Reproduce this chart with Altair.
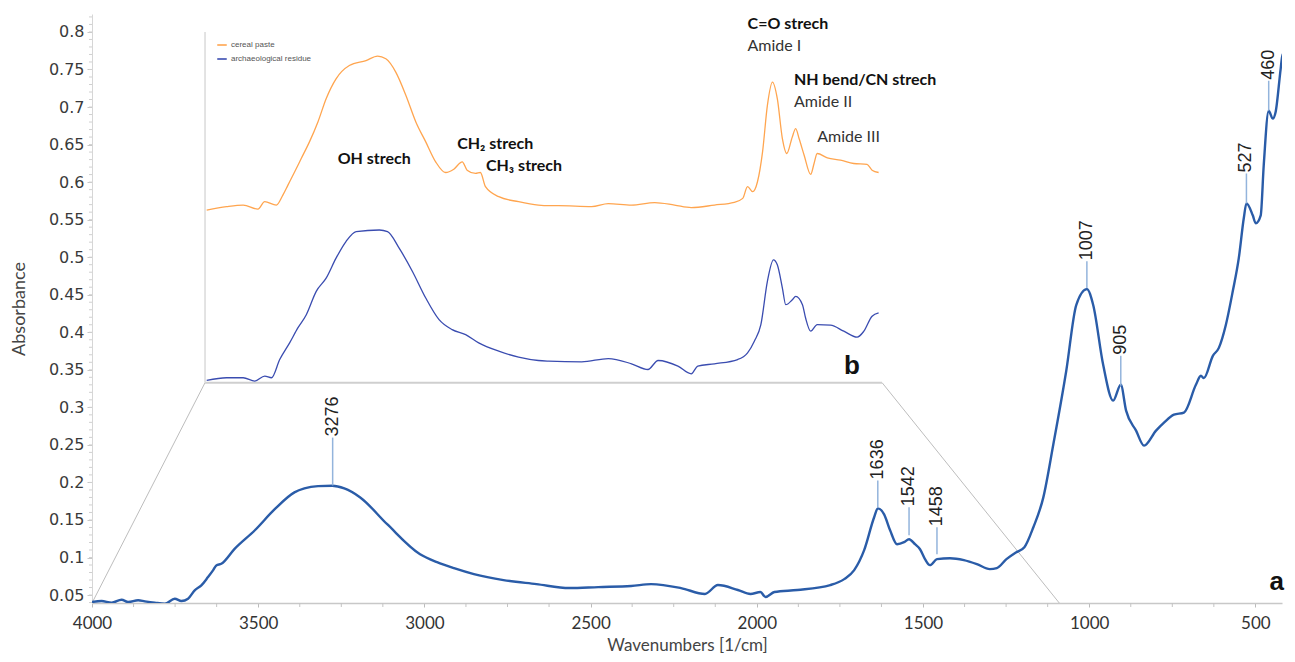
import altair as alt
import pandas as pd

# ---------------- data ----------------
main_wn = [4000, 3971, 3941, 3911, 3891, 3861, 3841, 3811, 3781, 3751,
           3731, 3711, 3691, 3671, 3651, 3636, 3626, 3611, 3571, 3510,
           3451, 3391, 3361, 3320, 3277, 3241, 3193, 3112, 3013, 2962,
           2911, 2851, 2762, 2663, 2564, 2477, 2378, 2318, 2228, 2156,
           2117, 2057, 2019, 1989, 1974, 1947, 1878, 1779, 1737, 1707,
           1677, 1647, 1636, 1617, 1599, 1578, 1557, 1542, 1524, 1509,
           1494, 1479, 1458, 1419, 1377, 1338, 1299, 1278, 1249, 1219,
           1195, 1168, 1138, 1108, 1069, 1039, 1007, 988, 958, 928,
           905, 889, 859, 835, 799, 775, 745, 715, 679, 664,
           655, 628, 610, 589, 568, 550, 535, 527, 508, 499,
           484, 475, 460, 448, 439, 424, 418, 409, 394]
main_abs = [0.0407, 0.042, 0.0398, 0.0438, 0.0407, 0.043, 0.0416, 0.0398, 0.0385, 0.0451,
            0.042, 0.0451, 0.0563, 0.0629, 0.0739, 0.0828, 0.0894, 0.0916, 0.1115, 0.1363,
            0.164, 0.1867, 0.192, 0.195, 0.1955, 0.192, 0.18, 0.1443, 0.1044, 0.0938,
            0.0858, 0.0779, 0.0699, 0.0646, 0.0593, 0.0606, 0.062, 0.0646, 0.0593, 0.0514,
            0.0633, 0.0567, 0.0514, 0.054, 0.0474, 0.054, 0.0567, 0.0633, 0.0712, 0.0832,
            0.1098, 0.1536, 0.1655, 0.1575, 0.1363, 0.1177, 0.1204, 0.1244, 0.1177, 0.111,
            0.0978, 0.0898, 0.0978, 0.0991, 0.0965, 0.0912, 0.0845, 0.0859, 0.0978, 0.1071,
            0.1137, 0.1403, 0.1801, 0.2505, 0.3487, 0.4363, 0.4575, 0.4363, 0.3566, 0.3089,
            0.330, 0.2956, 0.269, 0.249, 0.269, 0.2797, 0.2903, 0.293, 0.330, 0.342,
            0.339, 0.3686, 0.3792, 0.4097, 0.4549, 0.4987, 0.5518, 0.5717, 0.5558, 0.5451,
            0.5558, 0.6221, 0.6951, 0.6845, 0.6938, 0.7509, 0.7708, 0.7681, 0.7668]

peak_wn = [3276, 1636, 1542, 1458, 1007, 905, 527, 460]
peak_abs = [0.196, 0.1668, 0.1297, 0.1044, 0.4589, 0.3288, 0.5717, 0.6951]
peak_label_abs = [0.2597, 0.2027, 0.1668, 0.1403, 0.4947, 0.3686, 0.6115, 0.735]

cereal_wn = [3993, 3911, 3842, 3781, 3753, 3705, 3678, 3657, 3629, 3602,
             3568, 3533, 3499, 3458, 3403, 3334, 3286, 3252, 3211, 3169,
             3128, 3087, 3046, 3005, 2971, 2936, 2916, 2881, 2861, 2840,
             2785, 2703, 2621, 2579, 2538, 2401, 2332, 2236, 2140, 2058,
             1989, 1893, 1811, 1776, 1756, 1735, 1715, 1694, 1674, 1653,
             1633, 1612, 1594, 1571, 1557, 1543, 1522, 1495, 1481, 1468,
             1426, 1372, 1317, 1262, 1241, 1214]
cereal_abs = [0.5628, 0.5673, 0.5694, 0.5641, 0.5739, 0.5694, 0.5827, 0.596, 0.6138, 0.6314,
              0.6536, 0.6801, 0.7111, 0.7376, 0.7553, 0.7619, 0.7677, 0.7642, 0.7465, 0.7154,
              0.6801, 0.6536, 0.627, 0.6128, 0.6172, 0.627, 0.6159, 0.6115, 0.6128, 0.5939,
              0.5806, 0.5739, 0.5694, 0.5686, 0.5686, 0.5673, 0.5713, 0.5694, 0.5726, 0.5694,
              0.566, 0.5694, 0.573, 0.5783, 0.5939, 0.5872, 0.6005, 0.6403, 0.7022, 0.7332,
              0.7111, 0.658, 0.6381, 0.6602, 0.6712, 0.658, 0.6358, 0.6102, 0.6248, 0.6381,
              0.6323, 0.6292, 0.6248, 0.6235, 0.6159, 0.6128]

residue_wn = [3993, 3911, 3842, 3794, 3753, 3725, 3691, 3650, 3616, 3581,
              3540, 3499, 3458, 3417, 3375, 3279, 3245, 3197, 3142, 3087,
              3032, 2978, 2922, 2868, 2785, 2703, 2621, 2579, 2442, 2332,
              2236, 2168, 2126, 2044, 1989, 1962, 1893, 1797, 1756, 1728,
              1701, 1674, 1649, 1633, 1612, 1598, 1571, 1557, 1529, 1516,
              1495, 1468, 1413, 1358, 1303, 1275, 1241, 1214]
residue_abs = [0.3358, 0.3394, 0.3394, 0.335, 0.3417, 0.3394, 0.3637, 0.3859, 0.4058, 0.4234,
               0.4545, 0.4721, 0.4987, 0.5208, 0.5341, 0.5362, 0.5341, 0.512, 0.481, 0.4456,
               0.4168, 0.4035, 0.3969, 0.3859, 0.3748, 0.3669, 0.3624, 0.3616, 0.3606, 0.365,
               0.358, 0.3504, 0.3624, 0.3549, 0.3447, 0.3549, 0.358, 0.3637, 0.3726, 0.3881,
               0.4101, 0.4678, 0.4964, 0.4898, 0.4589, 0.4367, 0.4433, 0.4478, 0.4367, 0.419,
               0.4014, 0.4101, 0.4094, 0.4014, 0.3934, 0.4014, 0.4213, 0.4257]

series_names = ["cereal paste", "archaeological residue"]
series_colors = ["#ffa54f", "#3a4cb0"]

# inset annotations (inset wavenumber, absorbance level)
bold_texts = ["C=O strech", "NH bend/CN strech", "CH₂ strech", "CH₃ strech"]
bold_wn = [1756, 1564, 2957, 2838]
bold_abs = [0.8106, 0.7354, 0.6513, 0.6208]
oh_text = ["OH strech"]
oh_wn = [3300]
oh_abs = [0.6314]
plain_texts = ["Amide I", "Amide II", "Amide III"]
plain_wn = [1756, 1564, 1468]
plain_abs = [0.7814, 0.7067, 0.6602]

# zoom connector: region of main axis shown in inset and inset corners (main units)
zoom_from_wn = [4000, 1090]
inset_corner_wn = [3660, 1623]
inset_base_abs = 0.3328
inset_top_abs = 0.80
axis_bottom_abs = 0.0394

x_ticks = [4000, 3500, 3000, 2500, 2000, 1500, 1000, 500]
y_ticks = [0.05, 0.1, 0.15, 0.2, 0.25, 0.3, 0.35, 0.4, 0.45, 0.5,
           0.55, 0.6, 0.65, 0.7, 0.75, 0.8]
x_minor = [w for w in range(3875, 420, -125) if w % 500 != 0]
y_minor = [round(0.04 + 0.01 * i, 2) for i in range(79)]

# ---------------- scales ----------------
W, H = 1190, 589
xs_main = alt.Scale(domain=[420, 4000], reverse=True, nice=False, zero=False)
ys = alt.Scale(domain=[axis_bottom_abs, 0.8239], nice=False, zero=False)
xs_inset = alt.Scale(domain=[4000, 1200], range=[113, 790], nice=False, zero=False)

x_axis = alt.Axis(values=x_ticks, format="d", labelFont="Lato", labelFontSize=17,
                  labelColor="#333", title="Wavenumbers [1/cm]", titleFont="Lato",
                  titleFontSize=17, titleFontWeight="normal", titleColor="#444",
                  titlePadding=6, tickSize=4, tickColor="#bbbbbb", domainColor="#c8c8c8",
                  domainWidth=1.5, labelPadding=8, labelFlush=False, grid=False)
y_axis = alt.Axis(values=y_ticks, format=".2~f", labelFont="DejaVu Sans", labelFontSize=16,
                  labelColor="#3a3a3a", title="Absorbance", titleFont="Lato",
                  titleFontSize=18, titleFontWeight="normal", titleColor="#444",
                  titlePadding=20, tickSize=5, tickColor="#c8c8c8", domainColor="#d6d6d6",
                  labelPadding=3, labelFlush=False, grid=False)

# ---------------- main spectrum group ----------------
main_df = pd.DataFrame({"wn": main_wn, "A": main_abs})
peaks_df = pd.DataFrame({"wn": peak_wn, "A": peak_abs, "At": peak_label_abs,
                         "label": [str(p) for p in peak_wn]})
conn_df = pd.DataFrame({"x": zoom_from_wn, "y": [axis_bottom_abs] * 2,
                        "x2": inset_corner_wn, "y2": [inset_base_abs] * 2})
frame_bottom = pd.DataFrame({"x": [inset_corner_wn[0]], "x2": [inset_corner_wn[1]],
                             "y": [inset_base_abs]})
frame_left = pd.DataFrame({"x": [inset_corner_wn[0]], "y": [inset_base_abs],
                           "y2": [inset_top_abs]})
xminor_df = pd.DataFrame({"wn": x_minor})
yminor_df = pd.DataFrame({"A": y_minor})
a_df = pd.DataFrame({"wn": [436], "A": [0.0673], "t": ["a"]})


def mx(f):
    return alt.X(f, scale=xs_main, axis=x_axis)


def my(f):
    return alt.Y(f, scale=ys, axis=y_axis)


main_line = alt.Chart(main_df).mark_line(
    color="#2a5ca8", strokeWidth=2.4, clip=True, interpolate="monotone"
).encode(x=mx("wn:Q"), y=my("A:Q"))
connectors = alt.Chart(conn_df).mark_rule(color="#bdbdbd", strokeWidth=1).encode(
    x=mx("x:Q"), y=my("y:Q"), x2="x2:Q", y2="y2:Q",
)
fb = alt.Chart(frame_bottom).mark_rule(color="#cfcfcf", strokeWidth=2).encode(
    x=mx("x:Q"), x2="x2:Q", y=my("y:Q"),
)
fl = alt.Chart(frame_left).mark_rule(color="#dadada", strokeWidth=1.5).encode(
    x=mx("x:Q"), y=my("y:Q"), y2="y2:Q",
)
xminor = alt.Chart(xminor_df).mark_rule(color="#c4c4c4", strokeWidth=1).encode(
    x=mx("wn:Q"), y=alt.value(H), y2=alt.value(H + 4),
)
yminor = alt.Chart(yminor_df).mark_rule(color="#d0d0d0", strokeWidth=1).encode(
    y=my("A:Q"), x=alt.value(-3), x2=alt.value(0),
)
leaders = alt.Chart(peaks_df).mark_rule(color="#93b4dc", strokeWidth=1.5).encode(
    x=mx("wn:Q"), y=my("At:Q"), y2="A:Q",
)
peak_text = alt.Chart(peaks_df).mark_text(
    angle=270, align="left", baseline="middle", font="Liberation Sans",
    fontSize=18, color="#222", dx=1,
).encode(x=mx("wn:Q"), y=my("At:Q"), text="label:N")
a_text = alt.Chart(a_df).mark_text(
    font="Liberation Sans", fontSize=26, fontWeight="bold", color="#111",
    align="center", baseline="middle",
).encode(x=mx("wn:Q"), y=my("A:Q"), text="t:N")

main_group = alt.layer(connectors, fb, fl, xminor, yminor, main_line, leaders, peak_text, a_text)

# ---------------- inset group ----------------
inset_df = pd.concat([
    pd.DataFrame({"wn": cereal_wn, "A": cereal_abs, "series": series_names[0]}),
    pd.DataFrame({"wn": residue_wn, "A": residue_abs, "series": series_names[1]}),
])


def ix(f):
    return alt.X(f, scale=xs_inset, axis=None)


inset_lines = alt.Chart(inset_df).mark_line(strokeWidth=1.3, interpolate="monotone").encode(
    x=ix("wn:Q"), y=my("A:Q"),
    color=alt.Color("series:N", scale=alt.Scale(domain=series_names, range=series_colors),
                    title=None,
                    legend=alt.Legend(orient="none", legendX=124, legendY=25,
                                      symbolType="stroke", symbolSize=90,
                                      symbolStrokeWidth=1.6, labelFont="Liberation Sans",
                                      labelFontSize=8, labelColor="#555",
                                      rowPadding=4, padding=0, labelOffset=3)),
    detail="series:N",
)
bold_df = pd.DataFrame({"wn": bold_wn, "A": bold_abs, "t": bold_texts})
oh_df = pd.DataFrame({"wn": oh_wn, "A": oh_abs, "t": oh_text})
plain_df = pd.DataFrame({"wn": plain_wn, "A": plain_abs, "t": plain_texts})
b_df = pd.DataFrame({"wn": [1324], "A": [0.3553], "t": ["b"]})

bold_t = alt.Chart(bold_df).mark_text(font="Lato", fontSize=16, fontWeight="bold",
                                      color="#111", align="left", baseline="middle").encode(
    x=ix("wn:Q"), y=my("A:Q"), text="t:N")
oh_t = alt.Chart(oh_df).mark_text(font="Lato", fontSize=16, fontWeight="bold",
                                  color="#111", align="center", baseline="middle").encode(
    x=ix("wn:Q"), y=my("A:Q"), text="t:N")
plain_t = alt.Chart(plain_df).mark_text(font="Lato", fontSize=16, color="#333",
                                        align="left", baseline="middle").encode(
    x=ix("wn:Q"), y=my("A:Q"), text="t:N")
b_t = alt.Chart(b_df).mark_text(font="Liberation Sans", fontSize=26, fontWeight="bold",
                                color="#111", align="center", baseline="middle").encode(
    x=ix("wn:Q"), y=my("A:Q"), text="t:N")

inset_group = alt.layer(inset_lines, bold_t, oh_t, plain_t, b_t)

chart = alt.layer(main_group, inset_group).resolve_scale(x="independent").properties(
    width=W, height=H,
    padding={"left": 84, "top": 6, "right": 4, "bottom": 55},
    autosize=alt.AutoSizeParams(type="none"),
).configure_view(stroke=None)

chart.save("out.html", embed_options={"renderer": "svg", "actions": False})
